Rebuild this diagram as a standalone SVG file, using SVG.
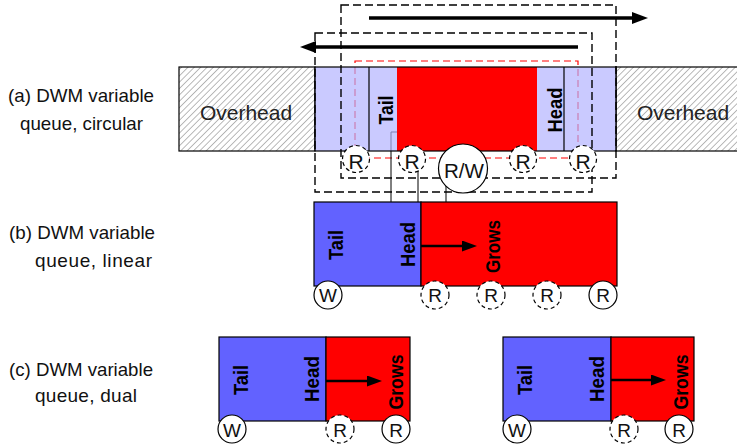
<svg xmlns="http://www.w3.org/2000/svg" width="737" height="444" viewBox="0 0 737 444">
<style>
 .lbl{font-family:"Liberation Sans",Arial,sans-serif;font-size:19px;fill:#111}
 .oh{font-family:"Liberation Sans",Arial,sans-serif;font-size:21px;fill:#222;text-anchor:middle}
 .vb{font-family:"Liberation Sans",Arial,sans-serif;font-size:20px;font-weight:bold;text-anchor:middle;fill:#000}
 .ct{font-family:"Liberation Sans",Arial,sans-serif;font-size:21px;text-anchor:middle;fill:#111}
 .cw{font-family:"Liberation Sans",Arial,sans-serif;font-size:21px;text-anchor:middle;fill:#111}
 .cs{font-family:"Liberation Sans",Arial,sans-serif;font-size:19px;text-anchor:middle;fill:#111}
 .box{stroke:#000;stroke-width:1.2}
 .dash{fill:none;stroke:#000;stroke-width:1.4;stroke-dasharray:8 4}
 .rdash{fill:none;stroke:#ff0000;stroke-width:1.2;stroke-dasharray:7 4}
 .c{fill:#fff;stroke:#000;stroke-width:1.2}
 .cd{fill:#fff;stroke:#000;stroke-width:1.2;stroke-dasharray:4 3}
 .conn{stroke:#000;stroke-width:1;fill:none}
 .big{stroke:#000;stroke-width:3.5;fill:none}
 .grow{stroke:#000;stroke-width:2.5;fill:none}
 .blue{fill:#6262ff}
 .red{fill:#ff0000}
 .lb{fill:#b3b3ff;fill-opacity:0.7}
</style>
<defs>
 <pattern id="hatch" width="4.5" height="4.5" patternUnits="userSpaceOnUse" patternTransform="rotate(45)">
  <line x1="0" y1="0" x2="0" y2="4.5" stroke="#8a8a8a" stroke-width="1.2"/>
 </pattern>
 <marker id="ah" markerUnits="userSpaceOnUse" markerWidth="17" markerHeight="12" refX="0" refY="6" orient="auto">
  <path d="M0,0 L16,6 L0,12 z" fill="#000"/>
 </marker>
 <marker id="ahs" markerUnits="userSpaceOnUse" markerWidth="16" markerHeight="12" refX="0" refY="5.5" orient="auto">
  <path d="M0,0 L15,5.5 L0,11 z" fill="#000"/>
 </marker>
</defs>
<rect width="737" height="444" fill="#fff"/>

<g id="labels">
 <text class="lbl" x="8" y="102" textLength="146" lengthAdjust="spacingAndGlyphs">(a) DWM variable</text>
 <text class="lbl" x="20" y="130" textLength="123" lengthAdjust="spacingAndGlyphs">queue, circular</text>
 <text class="lbl" x="9" y="239" textLength="146" lengthAdjust="spacingAndGlyphs">(b) DWM variable</text>
 <text class="lbl" x="35" y="267" textLength="117" lengthAdjust="spacing">queue, linear</text>
 <text class="lbl" x="9" y="376" textLength="144" lengthAdjust="spacingAndGlyphs">(c) DWM variable</text>
 <text class="lbl" x="35" y="402" textLength="102" lengthAdjust="spacing">queue, dual</text>
</g>

<g id="red-window">
 <rect class="rdash" x="355" y="61" width="223" height="97"/>
</g>

<g id="connectors">
 <polyline class="conn" points="397,132 391,132 391,202"/>
 <line class="conn" x1="418" y1="159" x2="418" y2="202"/>
 <line class="conn" x1="446" y1="168" x2="446" y2="202"/>
 <line class="big" x1="369" y1="18" x2="632" y2="18" marker-end="url(#ah)"/>
 <line class="big" x1="578" y1="47" x2="316" y2="47" marker-end="url(#ah)"/>
</g>

<g id="queue-a">
 <rect x="179" y="67" width="136" height="84" fill="url(#hatch)" class="box"/>
 <text class="oh" x="246" y="120">Overhead</text>
 <rect x="616" y="67" width="125" height="84" fill="url(#hatch)" class="box"/>
 <text class="oh" x="683" y="120">Overhead</text>
 <rect class="lb" x="315" y="67" width="301" height="84"/>
 <rect class="red" x="397" y="67" width="140" height="84"/>
 <rect x="315" y="67" width="301" height="84" fill="none" class="box"/>
 <line class="box" x1="369" y1="67" x2="369" y2="151"/>
 <line class="box" x1="564" y1="67" x2="564" y2="151"/>
 <text class="vb" transform="translate(393,110) rotate(-90)" textLength="29" lengthAdjust="spacingAndGlyphs">Tail</text>
 <text class="vb" transform="translate(562,110) rotate(-90)" textLength="45" lengthAdjust="spacingAndGlyphs">Head</text>
</g>

<g id="window-boxes">
 <rect class="dash" x="341" y="5" width="275" height="173"/>
 <rect class="dash" x="315" y="33" width="277" height="159"/>
</g>

<g id="ports-a">
 <circle class="cd" cx="356" cy="159" r="13.5"/><text class="ct" x="356" y="169">R</text>
 <circle class="cd" cx="412" cy="159" r="13.5"/><text class="ct" x="412" y="169">R</text>
 <circle class="c" cx="463" cy="168.5" r="24.5"/><text class="cw" x="464" y="178" textLength="40" lengthAdjust="spacingAndGlyphs">R/W</text>
 <circle class="cd" cx="523" cy="159" r="13.5"/><text class="ct" x="523" y="169">R</text>
 <circle class="cd" cx="583" cy="159" r="13.5"/><text class="ct" x="583" y="169">R</text>
</g>

<g id="queue-b">
 <rect class="blue box" x="314" y="202" width="107" height="84"/>
 <rect class="red box" x="421" y="202" width="196" height="84"/>
 <text class="vb" transform="translate(343,245) rotate(-90)" textLength="30" lengthAdjust="spacingAndGlyphs">Tail</text>
 <text class="vb" transform="translate(415,244.5) rotate(-90)" textLength="45" lengthAdjust="spacingAndGlyphs">Head</text>
 <text class="vb" transform="translate(500,246.5) rotate(-90)" textLength="53" lengthAdjust="spacingAndGlyphs">Grows</text>
 <line class="grow" x1="421" y1="246" x2="462" y2="246" marker-end="url(#ahs)"/>
 <circle class="c" cx="328" cy="295" r="14"/><text class="cs" x="328" y="302">W</text>
 <circle class="cd" cx="435" cy="295" r="14"/><text class="cs" x="435" y="302">R</text>
 <circle class="cd" cx="491" cy="295" r="14"/><text class="cs" x="491" y="302">R</text>
 <circle class="cd" cx="547" cy="295" r="14"/><text class="cs" x="547" y="302">R</text>
 <circle class="c" cx="603" cy="295" r="14"/><text class="cs" x="603" y="302">R</text>
</g>

<g id="queue-c1">
 <rect class="blue box" x="219" y="337" width="107" height="84"/>
 <rect class="red box" x="326" y="337" width="84" height="84"/>
 <text class="vb" transform="translate(248,380) rotate(-90)" textLength="30" lengthAdjust="spacingAndGlyphs">Tail</text>
 <text class="vb" transform="translate(319,379) rotate(-90)" textLength="46" lengthAdjust="spacingAndGlyphs">Head</text>
 <text class="vb" transform="translate(403,382) rotate(-90)" textLength="55" lengthAdjust="spacingAndGlyphs">Grows</text>
 <line class="grow" x1="326" y1="381" x2="367" y2="381" marker-end="url(#ahs)"/>
 <circle class="c" cx="232" cy="429" r="14"/><text class="cs" x="232" y="437">W</text>
 <circle class="cd" cx="340" cy="429" r="14"/><text class="cs" x="340" y="437">R</text>
 <circle class="c" cx="396" cy="429" r="14"/><text class="cs" x="396" y="437">R</text>
</g>

<g id="queue-c2">
 <rect class="blue box" x="503" y="337" width="108" height="84"/>
 <rect class="red box" x="611" y="337" width="83" height="84"/>
 <text class="vb" transform="translate(532,380) rotate(-90)" textLength="30" lengthAdjust="spacingAndGlyphs">Tail</text>
 <text class="vb" transform="translate(604,379) rotate(-90)" textLength="46" lengthAdjust="spacingAndGlyphs">Head</text>
 <text class="vb" transform="translate(688,382) rotate(-90)" textLength="55" lengthAdjust="spacingAndGlyphs">Grows</text>
 <line class="grow" x1="611" y1="380" x2="651" y2="380" marker-end="url(#ahs)"/>
 <circle class="c" cx="517" cy="429" r="14"/><text class="cs" x="517" y="437">W</text>
 <circle class="cd" cx="624" cy="429" r="14"/><text class="cs" x="624" y="437">R</text>
 <circle class="c" cx="679" cy="429" r="14"/><text class="cs" x="679" y="437">R</text>
</g>
</svg>
